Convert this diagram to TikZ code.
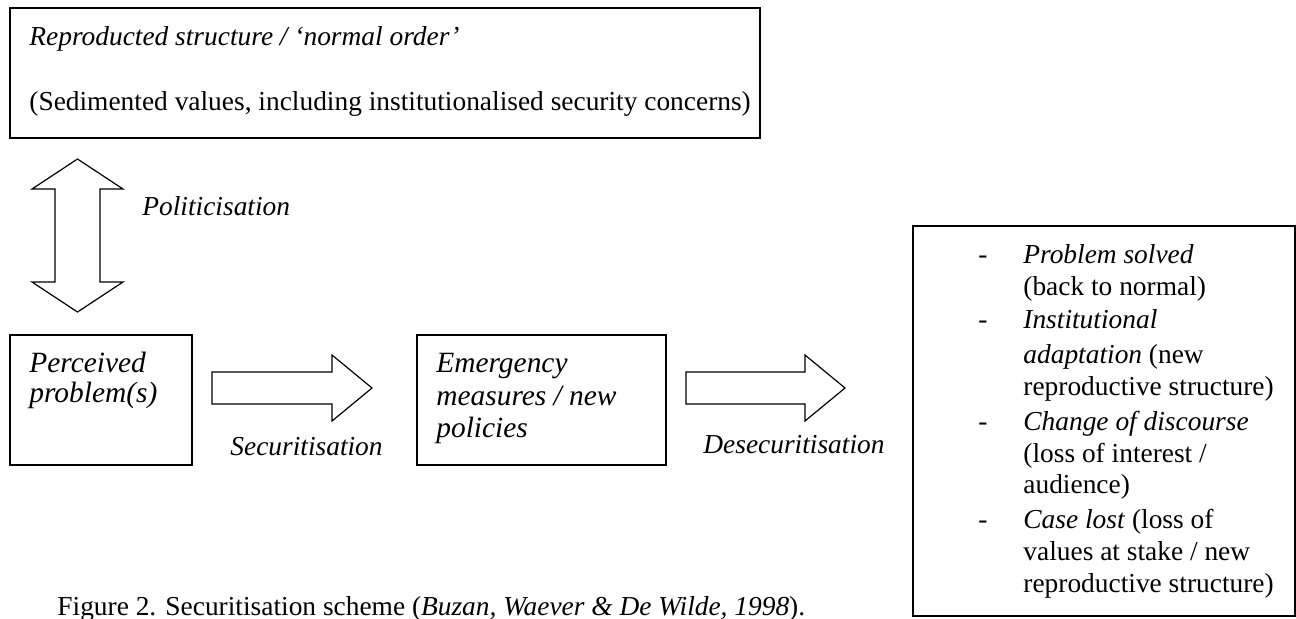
\documentclass[tikz,border=0pt]{standalone}
\usepackage{fontspec}
\setmainfont{Liberation Serif}
\begin{document}
\begin{tikzpicture}[x=0.5pt,y=-0.5pt,
  box/.style={draw, line width=0.8pt, anchor=north west, inner sep=0pt},
  blockarrow/.style={draw, line width=0.6pt, line join=miter},
  txt/.style={anchor=base west, inner sep=0pt, font=\fontsize{13.7pt}{16.5pt}\selectfont},
  bigtxt/.style={anchor=base west, inner sep=0pt, font=\fontsize{14.7pt}{16.5pt}\selectfont\itshape}]
\useasboundingbox (0,0) rectangle (1296,618);

% boxes
\node[box, minimum width=375pt, minimum height=65pt] (top) at (9,7) {};
\node[box, minimum width=91pt, minimum height=65pt] (pp) at (9,334) {};
\node[box, minimum width=124.5pt, minimum height=65pt] (em) at (416,334) {};
\node[box, minimum width=191pt, minimum height=195pt] (out) at (912,225) {};

% top box text
\node[txt] (t1) at (29,45) {\textit{Reproducted structure / ‘normal order’}};
\node[txt] (t2) at (29,110) {(Sedimented values, including institutionalised security concerns)};

% perceived problem
\node[bigtxt] (p1) at (29,372) {Perceived};
\node[bigtxt] (p2) at (29,402) {problem(s)};

% emergency measures
\node[bigtxt] (e1) at (436,372) {Emergency};
\node[bigtxt] (e2) at (436,405) {measures / new};
\node[bigtxt] (e3) at (436,437) {policies};

% outcome box
\foreach \y/\t [count=\i] in {263/{\textit{Problem solved}},
  295/{(back to normal)},
  328/{\textit{Institutional}},
  363/{\textit{adaptation} (new},
  395/{reproductive structure)},
  430/{\textit{Change of discourse}},
  462/{(loss of interest /},
  493/{audience)},
  528/{\textit{Case lost} (loss of},
  560/{values at stake / new},
  592/{reproductive structure)}}
  \node[txt] (o\i) at (1023,\y) {\t};
\foreach \y [count=\i] in {263,328,430,528}
  \node[txt] (d\i) at (978,\y) {-};

% politicisation double arrow
\draw[blockarrow] (77.5,159) -- (123,189) -- (100,189) -- (100,282) -- (123,282)
  -- (77.5,312) -- (32,282) -- (55,282) -- (55,189) -- (32,189) -- cycle;
\node[txt] (pol) at (142,215) {\textit{Politicisation}};

% securitisation arrow
\draw[blockarrow] (212,372) -- (332,372) -- (332,355) -- (372,388) -- (332,421)
  -- (332,404) -- (212,404) -- cycle;
\node[txt] (sec) at (230,455) {\textit{Securitisation}};

% desecuritisation arrow
\draw[blockarrow] (686,372) -- (805,372) -- (805,355) -- (845,388) -- (805,421)
  -- (805,404) -- (686,404) -- cycle;
\node[txt] (desec) at (703,453) {\textit{Desecuritisation}};

% caption
\node[txt] (cap) at (57,615) {Figure 2. Securitisation scheme (\textit{Buzan, Waever \& De Wilde, 1998}).};
\end{tikzpicture}
\end{document}
